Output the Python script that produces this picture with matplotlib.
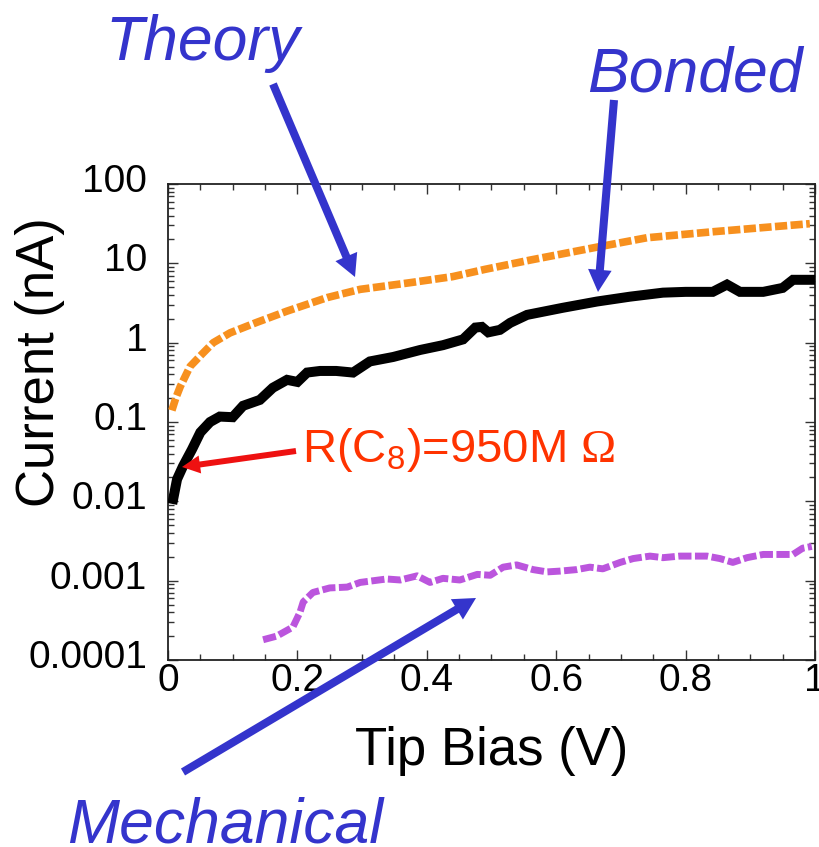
import matplotlib
matplotlib.use("Agg")
import matplotlib.pyplot as plt
from matplotlib.ticker import FixedLocator, FixedFormatter, LogLocator, MultipleLocator, NullFormatter
from matplotlib.transforms import ScaledTranslation

plt.rcParams['font.family'] = ['Liberation Sans', 'DejaVu Sans']
plt.rcParams['mathtext.fontset'] = 'custom'
plt.rcParams['mathtext.rm'] = 'Liberation Serif'
plt.rcParams['mathtext.sf'] = 'Liberation Sans'

# ---------------- data ----------------
theory_x = [0.006, 0.012, 0.019, 0.034, 0.052, 0.07, 0.096, 0.137, 0.184, 0.246,
            0.297, 0.374, 0.44, 0.49, 0.56, 0.663, 0.74, 0.842, 0.992]
theory_y = [0.14, 0.2, 0.28, 0.5, 0.71, 1.0, 1.33, 1.8, 2.5, 3.7,
            4.7, 5.7, 6.8, 8.4, 11, 16, 21, 25, 31.6]

bonded_x = [0.008, 0.014, 0.023, 0.037, 0.05, 0.065, 0.08, 0.10, 0.116, 0.142,
            0.162, 0.184, 0.2, 0.215, 0.235, 0.26, 0.286, 0.312, 0.348, 0.39,
            0.425, 0.456, 0.475, 0.485, 0.495, 0.513, 0.529, 0.555, 0.61, 0.663,
            0.714, 0.765, 0.80, 0.842, 0.864, 0.884, 0.92, 0.95, 0.966, 0.997]
bonded_y = [0.0107, 0.019, 0.0275, 0.045, 0.074, 0.10, 0.117, 0.115, 0.16, 0.19,
            0.27, 0.34, 0.32, 0.42, 0.44, 0.44, 0.42, 0.58, 0.66, 0.81,
            0.93, 1.10, 1.55, 1.58, 1.35, 1.45, 1.78, 2.24, 2.75, 3.3,
            3.8, 4.27, 4.37, 4.37, 5.4, 4.37, 4.37, 4.9, 6.2, 6.2]

mech_x = [0.147, 0.168, 0.193, 0.204, 0.209, 0.224, 0.25, 0.277, 0.297, 0.338,
          0.359, 0.385, 0.405, 0.425, 0.451, 0.478, 0.498, 0.518, 0.539, 0.564,
          0.586, 0.606, 0.632, 0.652, 0.672, 0.699, 0.719, 0.745, 0.765, 0.791,
          0.833, 0.853, 0.873, 0.895, 0.920, 0.946, 0.966, 0.981, 0.995]
mech_y = [1.8e-4, 2.0e-4, 2.6e-4, 4.0e-4, 5.4e-4, 7.1e-4, 8.1e-4, 8.3e-4, 9.5e-4, 1.05e-3,
          1.02e-3, 1.15e-3, 9.5e-4, 1.07e-3, 1.02e-3, 1.2e-3, 1.17e-3, 1.48e-3, 1.58e-3, 1.38e-3,
          1.29e-3, 1.32e-3, 1.38e-3, 1.48e-3, 1.41e-3, 1.7e-3, 1.9e-3, 2.04e-3, 1.95e-3, 2.04e-3,
          2.04e-3, 1.9e-3, 1.7e-3, 1.95e-3, 2.14e-3, 2.14e-3, 2.14e-3, 2.57e-3, 2.7e-3]

x_ticks = [0, 0.2, 0.4, 0.6, 0.8, 1]
x_tick_labels = ["0", "0.2", "0.4", "0.6", "0.8", "1"]
y_ticks = [1e-4, 1e-3, 1e-2, 1e-1, 1, 10, 100]
y_tick_labels = ["0.0001", "0.001", "0.01", "0.1", "1", "10", "100"]

# ---------------- figure ----------------
W, H = 820, 847
fig = plt.figure(figsize=(W / 100, H / 100), dpi=100)
ax = fig.add_axes([168 / W, 1 - 660 / H, 647 / W, 476 / H])

BLUE = '#3434CC'
ORANGE = '#F7901E'
PURPLE = '#BB55DD'

ax.plot(theory_x, theory_y, color=ORANGE, lw=5.5, dashes=(1.6, 0.45),
        solid_capstyle='butt', dash_capstyle='butt', zorder=3)
ax.plot(bonded_x, bonded_y, color='black', lw=7.2, solid_joinstyle='miter', zorder=4)
ax.plot(mech_x, mech_y, color=PURPLE, lw=5.0, dashes=(1.9, 0.5),
        dash_capstyle='butt', zorder=3)

ax.set_yscale('log')
ax.set_xlim(0, 1)
ax.set_ylim(1e-4, 100)

ax.xaxis.set_major_locator(FixedLocator(x_ticks))
ax.xaxis.set_major_formatter(FixedFormatter(x_tick_labels))
ax.xaxis.set_minor_locator(MultipleLocator(0.05))
ax.yaxis.set_major_locator(FixedLocator(y_ticks))
ax.yaxis.set_major_formatter(FixedFormatter(y_tick_labels))
ax.yaxis.set_minor_locator(LogLocator(base=10, subs=range(2, 10), numticks=20))
ax.yaxis.set_minor_formatter(NullFormatter())

ax.tick_params(which='both', direction='in', top=True, right=True, width=1.0, color='#333333')
ax.tick_params(which='major', length=7.5)
ax.tick_params(which='minor', length=4.5)
ax.tick_params(axis='x', which='major', labelsize=28, pad=2)
ax.tick_params(axis='y', which='major', labelsize=28, pad=15)
for s in ax.spines.values():
    s.set_linewidth(1.3)
    s.set_color('#222222')

# nudge y tick labels slightly upward, as in the reference
shift = ScaledTranslation(0, 6 / 100, fig.dpi_scale_trans)
for lab in ax.yaxis.get_majorticklabels():
    lab.set_transform(lab.get_transform() + shift)

ax.set_xlabel("Tip Bias (V)", fontsize=38, va='baseline')
ax.xaxis.set_label_coords(0.5, (660 - 765) / 476)
ax.set_ylabel("Current (nA)", fontsize=38, va='baseline')
ax.yaxis.set_label_coords((54 - 168) / 647, (660 - 362) / 476)


def fp(px, py):
    return (px / W, 1 - py / H)


arrow_blue = dict(facecolor=BLUE, edgecolor='none', width=5.8, headwidth=17,
                  headlength=16, shrink=0)
for tail, tip in [((273, 84), (355, 277)),
                  ((614, 100), (598, 292)),
                  ((183, 772), (476, 598))]:
    ax.annotate("", xy=fp(*tip), xytext=fp(*tail), xycoords='figure fraction',
                textcoords='figure fraction', arrowprops=arrow_blue,
                annotation_clip=False, zorder=10)

ax.annotate("", xy=fp(182, 467), xytext=fp(296, 451), xycoords='figure fraction',
            textcoords='figure fraction',
            arrowprops=dict(facecolor='#EE1111', edgecolor='none', width=4.3,
                            headwidth=13, headlength=13, shrink=0),
            annotation_clip=False, zorder=10)

fig.text(105 / W, 1 - 60 / H, "Theory", color=BLUE, fontsize=45, style='italic', va='baseline')
fig.text(587 / W, 1 - 92 / H, "Bonded", color=BLUE, fontsize=45, style='italic', va='baseline')
fig.text(67 / W, 1 - 842 / H, "Mechanical", color=BLUE, fontsize=45, style='italic', va='baseline')
fig.text(302 / W, 1 - 462 / H, r"R(C$_\mathsf{8}$)=950M $\mathrm{\Omega}$", color='#FF3300',
         fontsize=34, va='baseline')

fig.savefig("out.png", dpi=100)
